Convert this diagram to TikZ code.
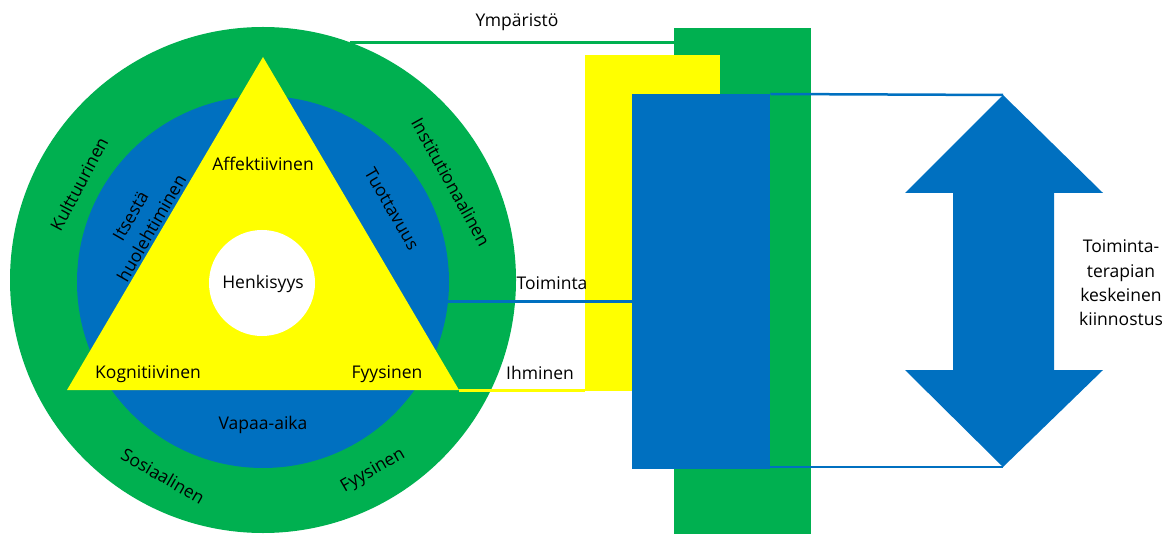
\documentclass[tikz,border=0pt]{standalone}
\usepackage{fontspec}
\setmainfont{Open Sans}
\definecolor{ogreen}{HTML}{00B050}
\definecolor{oblue}{HTML}{0070C0}
\definecolor{oyellow}{HTML}{FFFF00}
\begin{document}
\begin{tikzpicture}[x=1pt,y=-1pt,
  lbl/.style={font=\fontsize{17.5}{24.3}\selectfont, inner sep=0pt, text=black, align=center},
  ring/.style={circle, inner sep=0pt, draw=none},
  block/.style={rectangle, inner sep=0pt, draw=none, anchor=north west},
  link/.style={line width=3pt}]
\useasboundingbox (0,0) rectangle (1174,534);

% --- concentric model: environment, occupation, person ---
\node[ring, fill=ogreen, minimum size=506pt] (outer) at (263,280) {};
\node[ring, fill=oblue, minimum size=372pt] (inner) at (263,282) {};
\coordinate (tA) at (263,57);
\coordinate (tB) at (67,390);
\coordinate (tC) at (459,390);
\fill[oyellow] (tA) -- (tB) -- (tC) -- cycle;
\node[ring, fill=white, minimum size=106pt] (core) at (262,283) {};

% --- overlapping blocks on the right ---
\node[block, fill=ogreen, minimum width=137pt, minimum height=506pt] (envbox) at (674,28) {};
\node[block, fill=oyellow, minimum width=135pt, minimum height=336pt] (personbox) at (585,55) {};
\node[block, fill=oblue, minimum width=138pt, minimum height=375pt] (actbox) at (632,94) {};

% --- links from the rings to the blocks ---
\draw[link, ogreen] (outer.70) -- (outer.70 -| envbox.west);
\draw[link, oblue] (inner.-6) -- (inner.-6 -| actbox.west);
\draw[link, oyellow] (tC) -- (tC -| personbox.west);

% --- double arrow ---
\coordinate (up) at (1003,95);
\coordinate (dn) at (1003,467);
\fill[oblue] (up) -- (1103,193) -- (1054,193) -- (1054,370) -- (1103,370) -- (dn)
  -- (905,370) -- (953,370) -- (953,193) -- (905,193) -- cycle;
\draw[oblue, line width=2.5pt] (actbox.north east) -- (up);
\draw[oblue, line width=2pt] (dn -| actbox.east) -- (dn);

% --- labels ---
\node[lbl] (lEnv) at (517,22) {Ympäristö};
\node[lbl] (lAct) at (552,283) {Toiminta};
\node[lbl] (lPer) at (540,373) {Ihminen};
\node[lbl] (lFocus) at (1121,283) {Toiminta-\\terapian\\keskeinen\\kiinnostus};

\node[lbl] (lAff) at (263,164) {Affektiivinen};
\node[lbl] (lSpir) at (263,284) {Henkisyys};
\node[lbl] (lCog) at (148,374) {Kognitiivinen};
\node[lbl] (lPhy) at (387,374) {Fyysinen};

\node[lbl] (lLeis) at (263,425) {Vapaa-aika};
\node[lbl, rotate=60] (lSelf) at (141,222) {Itsestä\\huolehtiminen};
\node[lbl, rotate=-60] (lProd) at (392,209) {Tuottavuus};

\node[lbl, rotate=62] (lCult) at (79,184) {Kulttuurinen};
\node[lbl, rotate=-61] (lInst) at (451,182) {Institutionaalinen};
\node[lbl, rotate=-30] (lSoc) at (163,476) {Sosiaalinen};
\node[lbl, rotate=30] (lPhyEnv) at (373,471) {Fyysinen};
\end{tikzpicture}
\end{document}
